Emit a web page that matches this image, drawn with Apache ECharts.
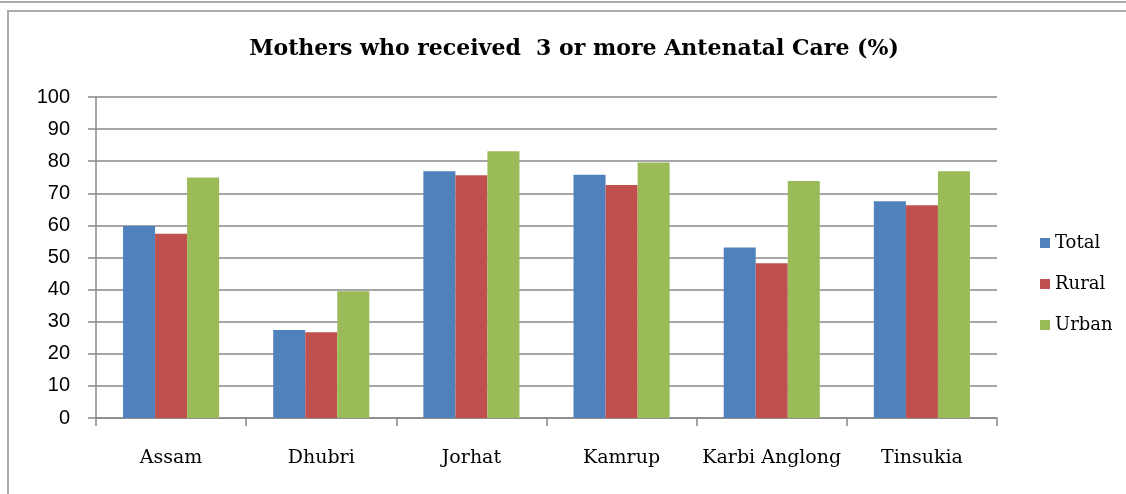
<!DOCTYPE html>
<html>
<head>
<meta charset="utf-8">
<script src="https://cdn.jsdelivr.net/npm/echarts@6/dist/echarts.min.js"></script>
<style>
  html, body { margin: 0; padding: 0; background: #fff; }
  #chart { width: 1126px; height: 494px; }
</style>
</head>
<body>
<div id="chart"></div>
<script>
// districts shown on x axis
var districts = ['Assam', 'Dhubri', 'Jorhat', 'Kamrup', 'Karbi Anglong', 'Tinsukia'];
// percentages
var total = [59.8, 27.4, 76.9, 75.8, 53.1, 67.5];
var rural = [57.4, 26.7, 75.6, 72.6, 48.2, 66.3];
var urban = [74.9, 39.5, 83.1, 79.6, 73.8, 76.9];
var yTicks = [0, 10, 20, 30, 40, 50, 60, 70, 80, 90, 100];

var serif = '"DejaVu Serif", "Liberation Serif", serif';
var sans = '"Liberation Sans", Arial, sans-serif';

var chart = echarts.init(document.getElementById('chart'));

var option = {
  animation: false,
  backgroundColor: '#fff',
  title: {
    text: 'Mothers who received  3 or more Antenatal Care (%)',
    left: 569,
    textAlign: 'center',
    top: 33,
    textStyle: { fontFamily: serif, fontWeight: 'bold', fontSize: 22, color: '#000' }
  },
  // frame lines of the original screenshot
  graphic: [
    { type: 'line', shape: { x1: 0, y1: 2, x2: 1126, y2: 2 }, style: { stroke: '#aaa', lineWidth: 2 } },
    { type: 'polyline', shape: { points: [[8, 494], [8, 11], [1126, 11]] }, style: { stroke: '#aaa', lineWidth: 2, fill: null } }
  ],
  legend: {
    orient: 'vertical',
    left: 1035,
    top: 229,
    itemWidth: 10,
    itemHeight: 10,
    itemGap: 23,
    icon: 'rect',
    textStyle: { fontFamily: serif, fontSize: 18, color: '#000' },
    data: ['Total', 'Rural', 'Urban']
  },
  grid: { left: 96, right: 129, top: 97, bottom: 76 },
  xAxis: {
    type: 'category',
    data: districts,
    axisLine: { lineStyle: { color: '#888', width: 1.5 } },
    axisTick: { show: true, interval: 0, length: 8, lineStyle: { color: '#888', width: 1.5 } },
    axisLabel: { interval: 0, margin: 31, fontFamily: serif, fontSize: 19, color: '#000' }
  },
  yAxis: {
    type: 'value',
    min: yTicks[0],
    max: yTicks[yTicks.length - 1],
    interval: 10,
    axisLine: { show: true, lineStyle: { color: '#888', width: 1.5 } },
    axisTick: { show: true, length: 8, lineStyle: { color: '#888', width: 1.5 } },
    splitLine: { lineStyle: { color: '#888', width: 1.5 } },
    axisLabel: { margin: 26, fontFamily: sans, fontSize: 20, color: '#000' }
  },
  series: [
    { name: 'Total', type: 'bar', data: total, barGap: '0%', barCategoryGap: '36%', itemStyle: { color: '#4F81BD' } },
    { name: 'Rural', type: 'bar', data: rural, barGap: '0%', barCategoryGap: '36%', itemStyle: { color: '#C0504D' } },
    { name: 'Urban', type: 'bar', data: urban, barGap: '0%', barCategoryGap: '36%', itemStyle: { color: '#9BBB59' } }
  ]
};

chart.setOption(option);
</script>
</body>
</html>
